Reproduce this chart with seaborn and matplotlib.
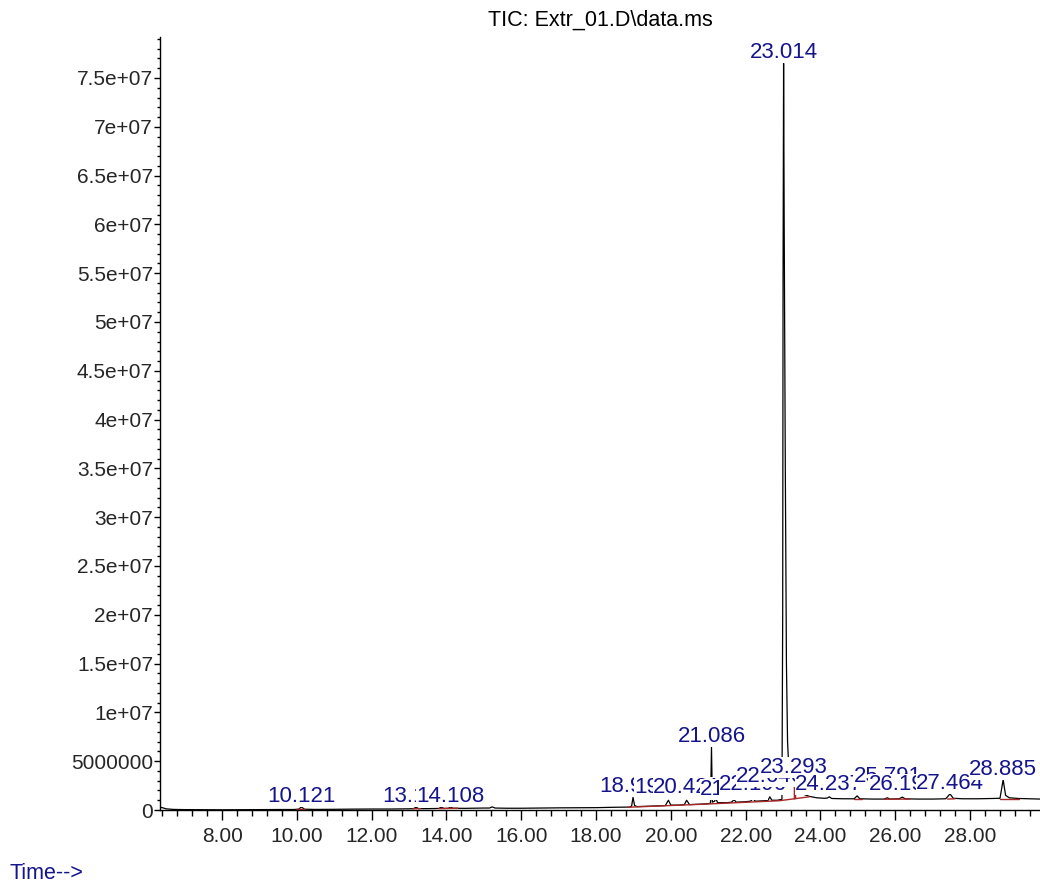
import matplotlib
matplotlib.use("Agg")
import matplotlib.pyplot as plt
from matplotlib.ticker import MultipleLocator, FuncFormatter
import seaborn as sns

# TIC trace (retention time in min, abundance in millions)
rt = [6.35, 6.42, 6.5, 6.7, 7.0, 7.5, 8.0, 8.5, 9.0, 9.5, 9.9, 10.05, 10.121, 10.2, 10.5,
      11.0, 11.5, 12.0, 12.5, 13.0, 13.12, 13.187, 13.25, 13.5, 13.8, 13.86, 13.93, 14.05,
      14.108, 14.17, 14.5, 15.0, 15.15, 15.22, 15.3, 15.6, 16.0, 16.5, 17.0, 17.5, 18.0,
      18.5, 18.9, 18.95, 18.988, 19.03, 19.1, 19.5, 19.85, 19.934, 20.0, 20.2, 20.36,
      20.421, 20.5, 20.8, 21.0, 21.06, 21.086, 21.11, 21.17, 21.2, 21.25, 21.5, 21.62,
      21.688, 21.75, 22.0, 22.13, 22.196, 22.26, 22.5, 22.6, 22.646, 22.7, 22.85, 22.97,
      22.99, 23.0, 23.014, 23.03, 23.06, 23.09, 23.12, 23.15, 23.2, 23.3, 23.4, 23.55,
      23.7, 23.9, 24.1, 24.18, 24.237, 24.3, 24.6, 24.9, 24.981, 25.05, 25.4, 25.7,
      25.791, 25.85, 26.1, 26.192, 26.26, 26.6, 27.0, 27.35, 27.464, 27.55, 27.8, 28.2,
      28.6, 28.8, 28.885, 28.95, 29.05, 29.3, 29.87]
tic = [0.28, 0.22, 0.12, 0.06, 0.04, 0.03, 0.02, 0.03, 0.04, 0.05, 0.05, 0.08, 0.32, 0.08, 0.06,
       0.07, 0.09, 0.10, 0.10, 0.12, 0.14, 0.30, 0.14, 0.14, 0.16, 0.30, 0.16, 0.17,
       0.32, 0.18, 0.17, 0.20, 0.20, 0.32, 0.20, 0.18, 0.18, 0.20, 0.22, 0.23, 0.24,
       0.28, 0.30, 0.40, 1.30, 0.45, 0.35, 0.40, 0.45, 1.00, 0.50, 0.50, 0.55,
       1.00, 0.55, 0.60, 0.65, 0.70, 6.45, 0.80, 0.90, 1.20, 0.75, 0.75, 0.80,
       1.05, 0.80, 0.85, 0.90, 1.15, 0.90, 0.95, 1.00, 1.35, 1.00, 1.00, 1.10,
       20.0, 55.0, 76.5, 60.0, 35.0, 15.0, 7.0, 4.5, 3.3, 2.4, 2.0, 1.6,
       1.4, 1.25, 1.2, 1.22, 1.35, 1.18, 1.15, 1.15, 1.45, 1.15, 1.12, 1.12,
       1.25, 1.12, 1.15, 1.32, 1.15, 1.12, 1.12, 1.15, 1.65, 1.2, 1.15, 1.15,
       1.18, 1.2, 3.1, 1.5, 1.25, 1.18, 1.12]

# integration baselines (red)
base_rt = [[10.0, 10.22], [13.1, 13.3], [13.8, 14.3], [18.85, 20.9, 22.9, 23.7],
           [24.9, 25.1], [25.7, 26.4], [27.4, 27.6], [28.8, 29.3]]
base_val = [[0.06, 0.07], [0.13, 0.14], [0.15, 0.18], [0.28, 0.6, 0.95, 1.35],
            [1.12, 1.12], [1.1, 1.12], [1.12, 1.15], [1.15, 1.15]]
fill_rt = [23.27, 23.34]
fill_low = [1.12, 1.18]
fill_high = [2.5, 2.3]

# peak labels
peak_rt = [10.121, 13.187, 14.108, 18.988, 19.934, 20.421, 21.086, 21.688, 22.196,
           22.646, 23.014, 23.293, 24.237, 25.791, 26.192, 27.464, 28.885]
peak_top = [0.32, 0.30, 0.32, 1.30, 1.00, 1.00, 6.45, 1.05, 1.15,
            1.35, 76.5, 2.2, 1.35, 1.25, 1.32, 1.65, 3.1]
label_lift = [0, 0, 0, 0, 2, 2, 0, 0, 4, 10, 0, 11, 2, 11, 2, 0, 0]  # px

NAVY = "#14148c"
RED = "#a82828"

sns.set_style("ticks")
plt.rcParams['font.family'] = ['Liberation Sans', 'DejaVu Sans']

fig = plt.figure(figsize=(10.4, 8.84), dpi=100)
ax = fig.add_axes([160 / 1040, 74 / 884, 880 / 1040, 773 / 884])

tic_abs = [v * 1e6 for v in tic]
sns.lineplot(x=rt, y=tic_abs, color="black", linewidth=0.9, ax=ax)

for xs, vs in zip(base_rt, base_val):
    ax.plot(xs, [v * 1e6 for v in vs], color=RED, linewidth=1.0, zorder=2.5)
ax.fill_between(fill_rt, [v * 1e6 for v in fill_low], [v * 1e6 for v in fill_high],
                color=RED, linewidth=0, zorder=2.4)

for r, top, lift in zip(peak_rt, peak_top, label_lift):
    ax.annotate(f"{r:.3f}", xy=(r, top * 1e6), xytext=(0, (5 + lift) * 0.72),
                textcoords="offset points", ha="center", va="baseline",
                fontsize=16, color=NAVY,
                bbox=dict(boxstyle="square,pad=0", fc="white", ec="none"))

ax.set_xlim(6.34, 29.87)
ax.set_ylim(0, 7.92e7)
ax.xaxis.set_major_locator(MultipleLocator(2))
ax.xaxis.set_minor_locator(MultipleLocator(0.4))
ax.yaxis.set_major_locator(MultipleLocator(5e6))
ax.yaxis.set_minor_locator(MultipleLocator(1e6))
ax.xaxis.set_major_formatter(FuncFormatter(lambda v, p: f"{v:.2f}"))
ax.yaxis.set_major_formatter(FuncFormatter(lambda v, p: str(int(v)) if v < 1e7 else f"{v:g}"))
ax.tick_params(axis="x", which="major", length=7, width=1, color="black", labelsize=15, pad=5)
ax.tick_params(axis="x", which="minor", length=4, width=1, color="black")
ax.tick_params(axis="y", which="major", length=4, width=1, color="black", labelsize=15, pad=1)
ax.tick_params(axis="y", which="minor", length=2.5, width=1, color="black")
for s in ["top", "right"]:
    ax.spines[s].set_visible(False)
for s in ["left", "bottom"]:
    ax.spines[s].set_color("black")
    ax.spines[s].set_linewidth(1)
ax.set_xlabel("")
ax.set_ylabel("")

ax.set_title("TIC: Extr_01.D\\data.ms", fontsize=15.5, pad=8, color="black")
fig.text(10 / 1040, 5 / 884, "Time-->", color=NAVY, fontsize=15.5, ha="left", va="baseline")

fig.savefig("out.png", dpi=100)
plt.close(fig)
